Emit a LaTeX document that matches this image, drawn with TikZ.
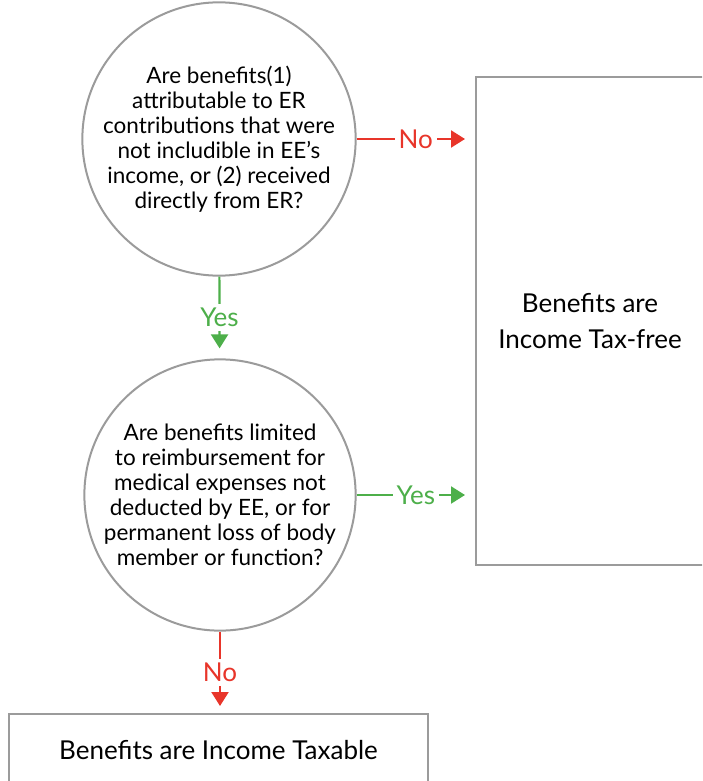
\documentclass[tikz,border=0pt]{standalone}
\usepackage{fontspec}
\setmainfont{Lato}
\usetikzlibrary{arrows.meta}
\definecolor{nored}{HTML}{E8352A}
\definecolor{yesgreen}{HTML}{4DAF4A}
\definecolor{linegray}{HTML}{9B9B9B}
\begin{document}
\begin{tikzpicture}
	    [x=1pt, y=-1pt,
	    question/.style={circle, draw=linegray, line width=2pt, minimum size=268pt, inner sep=0pt, align=center, font=\fontsize{22.5}{25}\selectfont},
	    result/.style={rectangle, draw=linegray, line width=2pt, inner sep=0pt, align=center, font=\fontsize{26}{36}\selectfont},
	    yes/.style={yesgreen, line width=2.2pt, -{Triangle[length=14pt, width=17pt]}},
	    no/.style={nored, line width=2.2pt, -{Triangle[length=14pt, width=17pt]}},
	    answer/.style={fill=white, inner sep=4pt, font=\fontsize{26}{28}\selectfont}]
	    \useasboundingbox (0,0) rectangle (702,781);
	    \clip (0,0) rectangle (702,781);
	    \node[question] (Q1) at (219,139) {Are benefits(1)\\attributable to ER\\contributions that were\\not includible in EE’s\\income, or (2) received\\directly from ER?};
	    \node[question] (Q2) at (220,495) {Are benefits limited\\to reimbursement for\\medical expenses not\\deducted by EE, or for\\permanent loss of body\\member or function?};
	    \node[result, minimum width=228pt, minimum height=488pt] (R1) at (590,321) {Benefits are\\Income Tax-free};
	    \node[result, minimum width=419pt, minimum height=72pt] (R2) at (218.5,750) {Benefits are Income Taxable};
	    \draw[no, shorten >=10pt] (Q1) -- node[answer, text=nored] {No} (R1.west |- Q1);
	    \draw[yes, shorten >=10pt] (Q1) -- node[answer, text=yesgreen] {Yes} (Q2);
	    \draw[yes, shorten >=10pt] (Q2) -- node[answer, text=yesgreen] {Yes} (R1.west |- Q2);
	    \draw[no, shorten >=7pt] (Q2) -- node[answer, text=nored] {No} (Q2.south |- R2.north);
\end{tikzpicture}
\end{document}
